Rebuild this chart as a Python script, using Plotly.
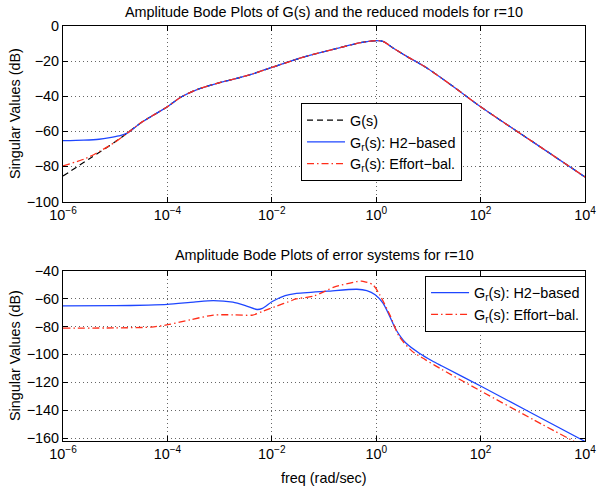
import plotly.graph_objects as go

# ---------------- Top plot data (frequency in rad/s, magnitude in dB) -------------
top_G_freq = [1e-6, 3.16e-6, 1e-5, 1.7e-5, 3.16e-5, 5.6e-5, 1e-4, 1.8e-4, 3.7e-4, 1e-3,
              3.7e-3, 1e-2, 4.3e-2, 0.18, 0.5, 1.0, 1.35, 2.1, 4.0, 8.9, 31.6, 100, 1000, 1e4]
top_G_db = [-85.5, -75.7, -66.0, -61.0, -55.0, -50.5, -46.0, -40.6, -36.2, -32.3,
            -27.9, -23.6, -17.5, -12.7, -9.5, -8.3, -8.8, -12.5, -17.6, -23.5, -35.0, -46.0, -66.0, -86.0]

top_H2_freq = [1e-6, 2.5e-6, 4.9e-6, 7.9e-6, 1.17e-5, 1.7e-5, 3.16e-5, 5.6e-5, 1e-4, 1.8e-4, 3.7e-4, 1e-3,
               3.7e-3, 1e-2, 4.3e-2, 0.18, 0.5, 1.0, 1.35, 2.1, 4.0, 8.9, 31.6, 100, 1000, 1e4]
top_H2_db = [-65.3, -65.0, -64.5, -63.6, -62.6, -61.0, -55.0, -50.5, -46.0, -40.6, -36.2, -32.3,
             -27.9, -23.6, -17.5, -12.7, -9.5, -8.3, -8.8, -12.5, -17.6, -23.5, -35.0, -46.0, -66.0, -86.0]

top_EB_freq = [1e-6, 2.75e-6, 4.9e-6, 1e-5, 1.7e-5, 3.16e-5, 5.6e-5, 1e-4, 1.8e-4, 3.7e-4, 1e-3,
               3.7e-3, 1e-2, 4.3e-2, 0.18, 0.5, 1.0, 1.35, 2.1, 4.0, 8.9, 31.6, 100, 1000, 1e4]
top_EB_db = [-79.7, -75.4, -71.6, -66.1, -61.0, -55.0, -50.5, -46.0, -40.6, -36.2, -32.3,
             -27.9, -23.6, -17.5, -12.7, -9.5, -8.3, -8.8, -12.5, -17.6, -23.5, -35.0, -46.0, -66.0, -86.0]

# ---------------- Bottom plot data (error systems) ---------------------------------
err_H2_freq = [1e-6, 1e-5, 4.3e-5, 1e-4, 3.2e-4, 7.6e-4, 1.8e-3, 3.2e-3, 5.2e-3, 6.6e-3,
               1.02e-2, 1.8e-2, 2.8e-2, 0.117, 0.427, 0.66, 0.955, 1.35, 1.82, 2.4, 3.7,
               6.6, 11.7, 18.2, 102, 1000, 1e4]
err_H2_db = [-65.2, -65.1, -64.7, -64.2, -62.5, -61.4, -62.6, -65.2, -67.8, -67.0,
             -62.1, -57.8, -56.4, -54.7, -53.3, -54.3, -57.3, -63.3, -72.8, -82.3, -91.8,
             -98.9, -104.5, -108.3, -122.8, -142.5, -162.3]

err_EB_freq = [1e-6, 1e-5, 4.9e-5, 1.02e-4, 2.8e-4, 7.6e-4, 1.8e-3, 4.3e-3, 6.6e-3, 1.17e-2,
               2.4e-2, 2.8e-2, 6.6e-2, 0.155, 0.427, 0.56, 0.87, 1.17, 1.82, 2.75, 4.9,
               8.7, 18.2, 102, 1000, 1e4]
err_EB_db = [-81.1, -81.0, -80.4, -78.7, -75.1, -71.8, -71.6, -71.8, -69.2, -65.7,
             -61.4, -60.4, -58.0, -51.8, -47.8, -47.6, -50.2, -57.3, -71.6, -87.0, -97.8,
             -103.7, -110.8, -126.3, -146.5, -166.5]

# ---------------- Text ---------------------------------------------------------------
x_tick_vals = [1e-6, 1e-4, 1e-2, 1, 1e2, 1e4]
x_tick_text = ["10<sup>\u22126</sup>", "10<sup>\u22124</sup>", "10<sup>\u22122</sup>",
               "10<sup>0</sup>", "10<sup>2</sup>", "10<sup>4</sup>"]
top_y_ticks = [-100, -80, -60, -40, -20, 0]
bot_y_ticks = [-160, -140, -120, -100, -80, -60, -40]

title_top = "Amplitude Bode Plots of G(s) and the reduced models for r=10"
title_bot = "Amplitude Bode Plots of error systems for r=10"
y_label = "Singular Values (dB)"
x_label = "freq (rad/sec)"
name_G = "G(s)"
name_H2 = "G<sub>r</sub>(s): H2\u2212based"
name_EB = "G<sub>r</sub>(s): Effort\u2212bal."

BLUE = "rgb(30,70,255)"
RED = "rgb(255,45,25)"
FONT = "Liberation Sans, Arial, Helvetica, sans-serif"
FS = 14.4

fig = go.Figure()

fig.add_trace(go.Scatter(x=top_G_freq, y=top_G_db, name=name_G, mode="lines",
                         line=dict(color="black", width=1.2, dash="6px,4px", shape="spline", smoothing=0.8),
                         xaxis="x", yaxis="y", legend="legend"))
fig.add_trace(go.Scatter(x=top_H2_freq, y=top_H2_db, name=name_H2, mode="lines",
                         line=dict(color=BLUE, width=1.3, shape="spline", smoothing=0.8),
                         xaxis="x", yaxis="y", legend="legend"))
fig.add_trace(go.Scatter(x=top_EB_freq, y=top_EB_db, name=name_EB, mode="lines",
                         line=dict(color=RED, width=1.3, dash="7px,3px,1.5px,3px", shape="spline", smoothing=0.8),
                         xaxis="x", yaxis="y", legend="legend"))

fig.add_trace(go.Scatter(x=err_H2_freq, y=err_H2_db, name=name_H2, mode="lines",
                         line=dict(color=BLUE, width=1.3, shape="spline", smoothing=0.7),
                         xaxis="x2", yaxis="y2", legend="legend2"))
fig.add_trace(go.Scatter(x=err_EB_freq, y=err_EB_db, name=name_EB, mode="lines",
                         line=dict(color=RED, width=1.3, dash="7px,3px,1.5px,3px", shape="spline", smoothing=0.7),
                         xaxis="x2", yaxis="y2", legend="legend2"))

axis_common = dict(
    showline=True, linecolor="black", linewidth=1, mirror="ticks",
    ticks="inside", ticklen=5, tickcolor="black", tickwidth=1,
    showgrid=True, gridcolor="rgba(0,0,0,0.6)", gridwidth=1, griddash="1px,3px",
    zeroline=False, tickfont=dict(family=FONT, size=FS, color="black"),
    ticklabeloverflow="allow",
)

fig.update_layout(
    width=604, height=489,
    margin=dict(l=63, r=8, t=26, b=48),
    paper_bgcolor="white", plot_bgcolor="white",
    font=dict(family=FONT, size=FS, color="black"),
    xaxis=dict(type="log", range=[-6, 4], domain=[0, 1], anchor="y",
               tickvals=x_tick_vals, ticktext=x_tick_text, **axis_common),
    yaxis=dict(range=[-100, 0], domain=[0.577, 1.0], anchor="x",
               tickvals=top_y_ticks, **axis_common),
    xaxis2=dict(type="log", range=[-6, 4], domain=[0, 1], anchor="y2",
                tickvals=x_tick_vals, ticktext=x_tick_text, **axis_common),
    yaxis2=dict(range=[-162, -40], domain=[0.0, 0.4104], anchor="x2",
                tickvals=bot_y_ticks, **axis_common),
    legend=dict(x=0.456, y=0.8137, xanchor="left", yanchor="top", itemwidth=38,
                bgcolor="white", bordercolor="black", borderwidth=1,
                font=dict(family=FONT, size=FS, color="black"), tracegroupgap=0),
    legend2=dict(x=1.002, y=0.398, xanchor="right", yanchor="top", itemwidth=38,
                 bgcolor="white", bordercolor="black", borderwidth=1,
                 font=dict(family=FONT, size=FS, color="black"), tracegroupgap=0),
    showlegend=True,
    annotations=[
        dict(text=title_top, x=0.5, y=1.0337, xref="paper", yref="paper",
             xanchor="center", yanchor="middle", showarrow=False, font=dict(size=FS)),
        dict(text=title_bot, x=0.5, y=0.448, xref="paper", yref="paper",
             xanchor="center", yanchor="middle", showarrow=False, font=dict(size=FS)),
        dict(text=x_label, x=0.5, y=-0.089, xref="paper", yref="paper",
             xanchor="center", yanchor="middle", showarrow=False, font=dict(size=FS)),
        dict(text=y_label, x=-0.0919, y=0.788, xref="paper", yref="paper", textangle=-90,
             xanchor="center", yanchor="middle", showarrow=False, font=dict(size=FS)),
        dict(text=y_label, x=-0.0919, y=0.2048, xref="paper", yref="paper", textangle=-90,
             xanchor="center", yanchor="middle", showarrow=False, font=dict(size=FS)),
    ],
)

# Remove the default 8px page margin so the figure fills the window exactly.
fig.write_html("out.html", config={"displayModeBar": False},
               post_script="document.body.style.margin='0';")
